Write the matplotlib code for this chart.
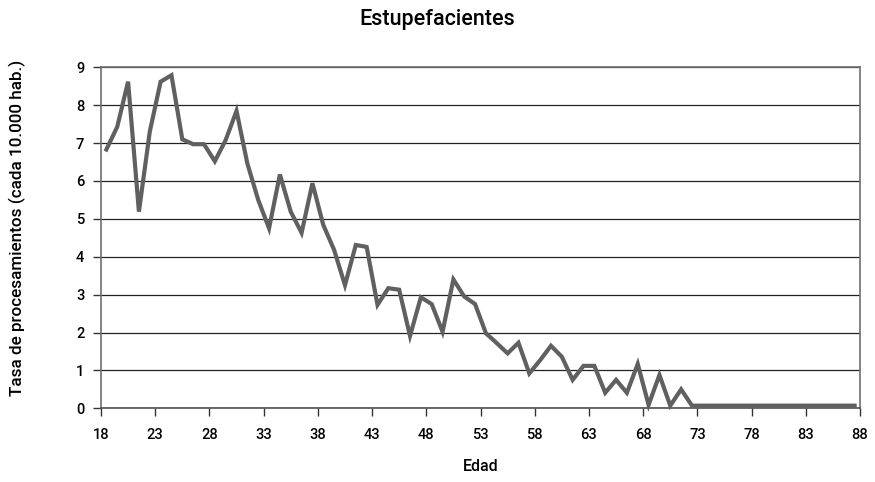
import matplotlib
matplotlib.use("Agg")
import matplotlib.pyplot as plt
import numpy as np

ages = list(range(18, 88))
values = [6.83, 7.43, 8.62, 5.19, 7.3, 8.62, 8.79, 7.10, 6.97, 6.97,
          6.52, 7.08, 7.85, 6.46, 5.50, 4.75, 6.17, 5.19, 4.63, 5.94,
          4.84, 4.18, 3.25, 4.31, 4.26, 2.73, 3.17, 3.13, 1.91, 2.93,
          2.75, 2.02, 3.40, 2.95, 2.75, 1.98, 1.72, 1.45, 1.73, 0.92,
          1.27, 1.65, 1.36, 0.75, 1.12, 1.12, 0.41, 0.75, 0.41, 1.17,
          0.09, 0.88, 0.07, 0.50, 0.07, 0.07, 0.07, 0.07, 0.07, 0.07,
          0.07, 0.07, 0.07, 0.07, 0.07, 0.07, 0.07, 0.07, 0.07, 0.07]
xticks = list(range(18, 89, 5))
yticks = list(range(0, 10))

plt.rcParams['font.family'] = ['Roboto', 'DejaVu Sans']
fig = plt.figure(figsize=(8.75, 4.82), dpi=100)
ax = fig.add_axes([0.1154, 0.1529, 0.8675, 0.7075])

x = np.array(ages) + 0.5
ax.plot(x, values, color='#606060', lw=3.0, solid_joinstyle='miter', zorder=3, clip_on=False)

ax.set_xlim(18, 88)
ax.set_ylim(0, 9)
ax.set_xticks(xticks)
ax.set_yticks(yticks)
ax.set_xticklabels([str(t) for t in xticks], fontsize=10.5, fontweight='medium')
ax.set_yticklabels([str(t) for t in yticks], fontsize=10.5, fontweight='medium')
ax.tick_params(axis='both', direction='out', length=6, width=1, color='#333333', pad=8)
ax.tick_params(axis='y', pad=6)
ax.grid(axis='y', color='#222222', lw=0.9, zorder=1)
for s in ['left', 'right', 'top', 'bottom']:
    ax.spines[s].set_color('#707070')
    ax.spines[s].set_linewidth(1.2)
ax.spines['bottom'].set_color('#505050')

fig.text(0.5, 1 - 20 / 482, 'Estupefacientes', fontsize=15.5, fontweight='medium',
         ha='center', va='center')
ax.set_xlabel('Edad', fontsize=11.5, fontweight='medium')
ax.xaxis.set_label_coords(0.5, -(459 - 408.3) / 341.0)
ax.set_ylabel('Tasa de procesamientos (cada 10.000 hab.)', fontsize=12.3, fontweight='medium')
ax.yaxis.set_label_coords(-(101 - 26) / 759.0, 0.529)

fig.savefig('out.png', dpi=100)
